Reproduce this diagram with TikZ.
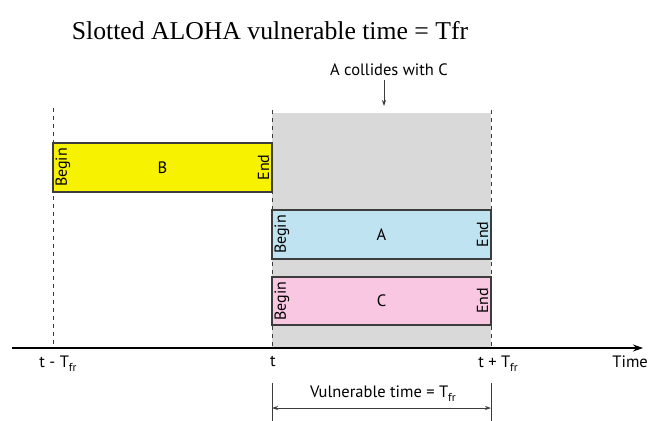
\documentclass[tikz,border=0pt]{standalone}
\usepackage{fontspec}
\setmainfont{Liberation Serif}
\newfontfamily\labelfont{PT Sans}
\usetikzlibrary{arrows.meta}
\definecolor{frameyellow}{HTML}{F7F200}
\definecolor{frameblue}{HTML}{BFE3F0}
\definecolor{framepink}{HTML}{F9C7E2}
\definecolor{slotgray}{HTML}{D9D9D9}
\definecolor{edgegray}{HTML}{3C3C3C}
% frame-time symbol with a lowered subscript
\newcommand{\frametime}{T\raisebox{-0.45ex}{\fontsize{11.5}{12}\selectfont fr}}
\tikzset{
  framebox/.style={draw=edgegray, line width=1.1pt, minimum width=219pt, minimum height=49pt, inner sep=0pt,
    font=\labelfont\fontsize{16.5}{18}\selectfont},
  marklabel/.style={rotate=90, inner sep=0pt, font=\labelfont\fontsize{16}{18}\selectfont},
  slotline/.style={draw=edgegray, line width=1pt, dash pattern=on 4pt off 4pt},
  axislabel/.style={inner sep=0pt, font=\labelfont\fontsize{16.5}{18}\selectfont},
  thinline/.style={draw=edgegray, line width=0.8pt}
}
\begin{document}
\begin{tikzpicture}[x=1pt, y=-1pt]
\useasboundingbox (0,0) rectangle (649,421);

% title
\node (title) at (270,31) {\fontsize{25.7}{30}\selectfont Slotted ALOHA vulnerable time = Tfr};

% shaded slot
\node (slot) [fill=slotgray, minimum width=219pt, minimum height=235pt, inner sep=0pt] at (381.5,230.5) {};

% slot boundaries
\coordinate (d1t) at (53,108);  \coordinate (d1b) at (53,348);
\coordinate (d2t) at (272,110); \coordinate (d2b) at (272,348);
\coordinate (d3t) at (491,110); \coordinate (d3b) at (491,348);
\draw[slotline] (d1t) -- (d1b);
\draw[slotline] (d2t) -- (d2b);
\draw[slotline] (d3t) -- (d3b);

% frames
\node (B) [framebox, fill=frameyellow] at (162.5,167.5) {B};
\node (A) [framebox, fill=frameblue] at (381.5,234.5) {A};
\node (C) [framebox, fill=framepink, minimum height=48pt] at (381.5,301) {C};
\node (Bb) [marklabel, anchor=north] at ([xshift=3pt]B.west) {Begin};
\node (Be) [marklabel, anchor=south] at ([xshift=-3pt]B.east) {End};
\node (Ab) [marklabel, anchor=north] at ([xshift=3pt]A.west) {Begin};
\node (Ae) [marklabel, anchor=south] at ([xshift=-3pt]A.east) {End};
\node (Cb) [marklabel, anchor=north] at ([xshift=3pt]C.west) {Begin};
\node (Ce) [marklabel, anchor=south] at ([xshift=-3pt]C.east) {End};

% collision note
\node (collide) [axislabel] at (389,70) {A collides with C};
\coordinate (hit) at (384,106);
\draw[thinline, -{Stealth[length=6pt, width=4pt]}] (collide.south -| hit) ++(0,4) -- (hit);

% time axis
\coordinate (axL) at (12,348);
\coordinate (axR) at (643,348);
\draw[draw=black, line width=1.1pt, -{Stealth[length=10pt, width=7pt]}] (axL) -- (axR);
\node (l1) [axislabel] at (58,364) {t - \frametime};
\node (l2) [axislabel] at (273,361) {t};
\node (l3) [axislabel] at (498,364) {t + \frametime};
\node (l4) [axislabel, anchor=east] at (648,362) {Time};

% vulnerable interval
\coordinate (v1t) at (272,383); \coordinate (v1b) at (272,421);
\coordinate (v2t) at (491,383); \coordinate (v2b) at (491,421);
\draw[thinline] (v1t) -- (v1b);
\draw[thinline] (v2t) -- (v2b);
\node (vlabel) [axislabel] at (383,394) {Vulnerable time = \frametime};
\coordinate (va) at (272,408); \coordinate (vb) at (491,408);
\draw[thinline, {Stealth[length=6pt, width=4pt]}-{Stealth[length=6pt, width=4pt]}] (va) -- (vb);
\end{tikzpicture}
\end{document}
